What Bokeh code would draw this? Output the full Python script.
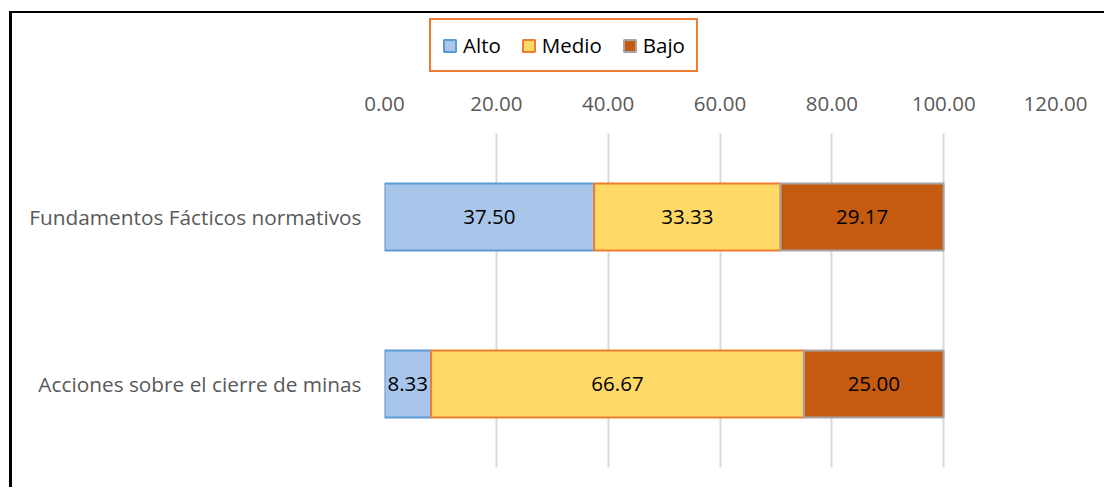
from bokeh.plotting import figure
from bokeh.layouts import column
from bokeh.models import (FactorRange, Range1d, FixedTicker, PrintfTickFormatter,
                          Legend, LegendItem, ColumnDataSource)
from bokeh.core.properties import value
from bokeh.embed import file_html
from bokeh.resources import INLINE

categories = ["Acciones sobre el cierre de minas", "Fundamentos Fácticos normativos"]
series = ["Alto", "Medio", "Bajo"]
alto = [8.33, 37.50]
medio = [66.67, 33.33]
bajo = [25.00, 29.17]
x_ticks = [0, 20, 40, 60, 80, 100, 120]

fills = ["#A9C5E9", "#FFD966", "#C55A11"]
lines = ["#5B9BD5", "#ED7D31", "#A5A5A5"]

FONT = "Open Sans"
FS = "20.5px"
W = 1092

# ---- legend strip (top) ----
lg = figure(width=W, height=70, x_range=Range1d(0, 1), y_range=Range1d(0, 1),
            x_axis_type=None, y_axis_type=None,
            output_backend="svg", toolbar_location=None,
            min_border=0)
lg.outline_line_color = None
lg.xgrid.grid_line_color = None
lg.ygrid.grid_line_color = None
# swatch renderers for the legend (tiny bars hidden behind the opaque legend box)
dummies = [lg.hbar(y=[0.5], left=[0.2], right=[0.25], height=0.1,
                   fill_color=f, line_color=l, line_width=2)
           for f, l in zip(fills, lines)]
legend = Legend(items=[LegendItem(label=s, renderers=[r]) for s, r in zip(series, dummies)],
                orientation="horizontal", location=(45, 11),
                label_text_font=FONT, label_text_font_size=FS,
                label_text_color="#000000",
                glyph_width=15, glyph_height=15, label_standoff=6, spacing=20,
                padding=11, margin=0,
                border_line_color="#ED7D31", border_line_width=2.5,
                border_line_alpha=1.0, background_fill_color="#FFFFFF",
                background_fill_alpha=1.0)
lg.add_layout(legend, "center")

# ---- main chart ----
p = figure(y_range=FactorRange(factors=categories, range_padding=0),
           x_range=Range1d(0, 120),
           width=W, height=404,
           x_axis_location="above",
           output_backend="svg", toolbar_location=None,
           min_border_left=372, min_border_right=49,
           min_border_top=50, min_border_bottom=20)
p.outline_line_color = None
p.ygrid.grid_line_color = None
p.xgrid.grid_line_color = "#D9D9D9"
p.xgrid.grid_line_width = 2

data = {"cat": categories, "Alto": alto, "Medio": medio, "Bajo": bajo}
src = ColumnDataSource(data)
renderers = p.hbar_stack(series, y="cat", height=0.4, source=src,
                         fill_color=fills, line_color=lines, line_width=2)

# value labels at segment midpoints
lx, ly, lt = [], [], []
for i, c in enumerate(categories):
    start = 0.0
    for s in (alto, medio, bajo):
        v = s[i]
        lx.append(start + v / 2)
        ly.append(c)
        lt.append("%.2f" % v)
        start += v
lsrc = ColumnDataSource(dict(x=lx, y=ly, t=lt))
p.text(x="x", y="y", text="t", source=lsrc,
       text_align="center", text_baseline="middle",
       text_font=value(FONT), text_font_size=FS, text_color="#000000")

xa = p.xaxis[0]
xa.ticker = FixedTicker(ticks=x_ticks)
xa.formatter = PrintfTickFormatter(format="%.2f")
xa.axis_line_color = None
xa.major_tick_line_color = None
xa.minor_tick_line_color = None
xa.major_label_text_font = FONT
xa.major_label_text_font_size = FS
xa.major_label_text_color = "#595959"
xa.major_label_standoff = 17

ya = p.yaxis[0]
ya.axis_line_color = None
ya.major_tick_line_color = None
ya.minor_tick_line_color = None
ya.major_label_text_font = FONT
ya.major_label_text_font_size = "20.8px"
ya.major_label_text_color = "#595959"
ya.major_label_standoff = 17

layout = column(lg, p, spacing=0)
layout.styles = {"margin-left": "9px", "margin-top": "11px",
                 "border-top": "2px solid #000", "border-left": "3px solid #000"}

open("out.html", "w").write(file_html(layout, INLINE))
